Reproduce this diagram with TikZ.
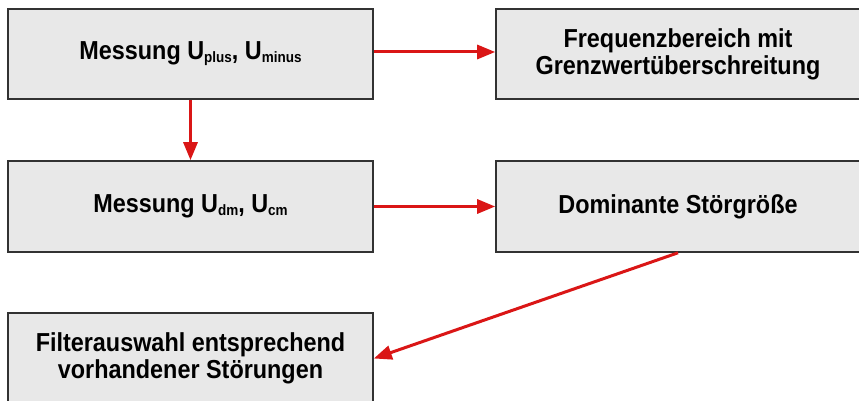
\documentclass[tikz,border=0pt]{standalone}
\usepackage{fontspec}
\setmainfont{Liberation Sans}[FakeStretch=0.9]
\usetikzlibrary{arrows.meta}
\newcommand\lowtxt[1]{\raisebox{-3pt}{\fontsize{15}{15}\selectfont #1}}
\definecolor{boxfill}{RGB}{232,232,232}
\definecolor{boxline}{RGB}{50,50,50}
\definecolor{arrred}{RGB}{218,22,22}
\begin{document}
\begin{tikzpicture}[x=1pt,y=1pt,
  box/.style={draw=boxline,fill=boxfill,line width=1.6pt,inner sep=0pt,
    font=\fontsize{26}{27}\selectfont\bfseries,align=center},
  conn/.style={draw=arrred,line width=3pt,-{Triangle[length=18pt,width=14pt]}}]
\useasboundingbox (0,0) rectangle (859,401);
\begin{scope}
\clip (0,0) rectangle (859,401);
\node[box,minimum width=365pt,minimum height=90pt] (b1) at (190.5,347) {Messung U\lowtxt{plus}, U\lowtxt{minus}};
\node[box,minimum width=364pt,minimum height=90pt] (b2) at (678,347) {Frequenzbereich mit\\Grenzwertüberschreitung};
\node[box,minimum width=365pt,minimum height=91pt] (b3) at (190.5,194.5) {Messung U\lowtxt{dm}, U\lowtxt{cm}};
\node[box,minimum width=364pt,minimum height=91pt] (b4) at (678,194.5) {Dominante Störgröße};
\node[box,minimum width=365pt,minimum height=91pt] (b5) at (190.5,42.5) {Filterauswahl entsprechend\\vorhandener Störungen};
\end{scope}
\draw[conn] ([yshift=2pt]b1.east) -- ([yshift=2pt]b2.west);
\draw[conn] (b1.south) -- (b3.north);
\draw[conn] (b3.east) -- (b4.west);
\draw[conn] (b4.south) -- (b5.east);
\end{tikzpicture}
\end{document}
